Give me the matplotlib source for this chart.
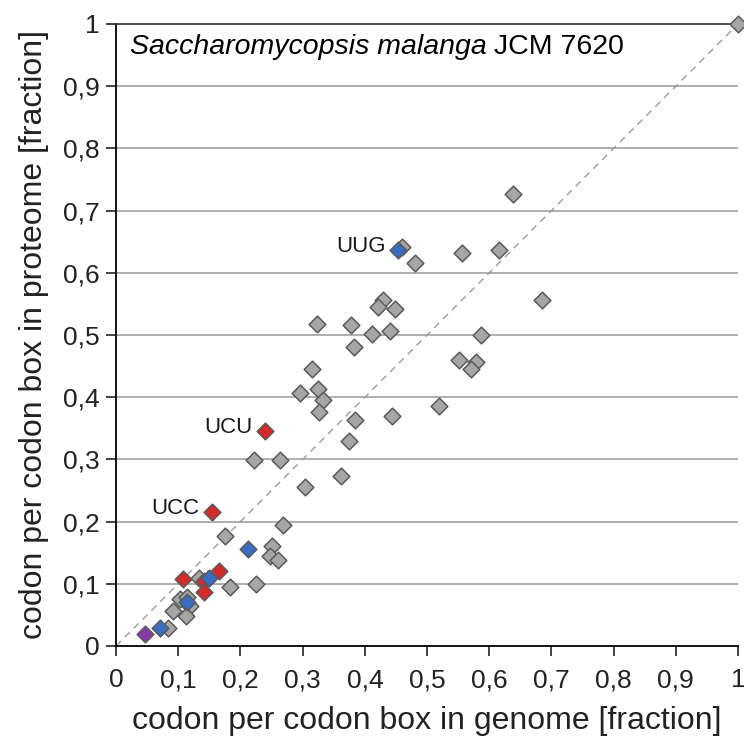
import matplotlib
matplotlib.use('Agg')
import matplotlib.pyplot as plt
from matplotlib.ticker import FuncFormatter

plt.rcParams['font.family'] = ['Liberation Sans', 'DejaVu Sans']

# codon fractions: genome (x) vs proteome (y)
gray_x = [0.303, 0.268, 0.175, 0.250, 0.247, 0.261, 0.134, 0.183, 0.225, 0.103,
          0.114, 0.119, 0.092, 0.112, 0.083, 0.295, 0.324, 0.333, 0.326, 0.384,
          0.443, 0.375, 0.222, 0.264, 0.361, 0.638, 0.460, 0.480, 0.556, 0.615,
          0.429, 0.421, 0.449, 0.323, 0.378, 0.412, 0.441, 0.383, 0.587, 0.551,
          0.579, 0.571, 0.315, 0.520, 0.684, 1.0]
gray_y = [0.256, 0.195, 0.177, 0.161, 0.144, 0.139, 0.110, 0.095, 0.099, 0.076,
          0.078, 0.065, 0.057, 0.048, 0.029, 0.407, 0.413, 0.395, 0.376, 0.364,
          0.370, 0.329, 0.299, 0.299, 0.274, 0.726, 0.642, 0.615, 0.632, 0.637,
          0.557, 0.545, 0.542, 0.518, 0.516, 0.502, 0.506, 0.481, 0.500, 0.459,
          0.457, 0.445, 0.445, 0.386, 0.556, 1.0]

red_x = [0.154, 0.239, 0.165, 0.108, 0.141, 0.141]
red_y = [0.215, 0.345, 0.121, 0.108, 0.104, 0.087]

blue_x = [0.454, 0.212, 0.149, 0.114, 0.071]
blue_y = [0.637, 0.156, 0.110, 0.071, 0.029]

purple_x = [0.047]
purple_y = [0.019]

labels = ['UUG', 'UCU', 'UCC']
label_x = [0.454, 0.239, 0.154]
label_y = [0.637, 0.345, 0.215]

fig = plt.figure(figsize=(7.44, 7.36), dpi=100)
ax = fig.add_axes([0.156, 0.1223, 0.836, 0.8451])

# horizontal grid
for v in [i / 10 for i in range(1, 10)]:
    ax.axhline(v, color='#999999', lw=1.1, zorder=0)

# diagonal
ax.plot([0, 1], [0, 1], color='#9a9a9a', lw=1.0, ls=(0, (5, 4)), zorder=1)

mk = dict(marker='D', s=72, linewidths=1.1, edgecolors='#5a5a5a', zorder=3, clip_on=False)
ax.scatter(gray_x, gray_y, color='#a6a6a6', **mk)
ax.scatter(red_x, red_y, color='#d42a2a', **mk)
ax.scatter(blue_x, blue_y, color='#3a6cc2', **mk)
ax.scatter(purple_x, purple_y, color='#8a3aa8', **mk)

for t, x, y in zip(labels, label_x, label_y):
    ax.text(x - 0.02, y + 0.006, t, fontsize=16, ha='right', va='center', color='#1a1a1a')

t1 = ax.text(0.022, 0.963, 'Saccharomycopsis malanga', fontsize=20.5, style='italic',
             transform=ax.transAxes, va='center', ha='left')
ax.annotate(' JCM 7620', xy=(1, 0), xycoords=t1, fontsize=20.5, va='bottom', ha='left')

ax.set_xlim(0, 1)
ax.set_ylim(0, 1)
ticks = [i / 10 for i in range(11)]
ax.set_xticks(ticks)
ax.set_yticks(ticks)
fmt = FuncFormatter(lambda v, p: '0' if v == 0 else ('1' if v == 1 else f'{v:.1f}'.replace('.', ',')))
ax.xaxis.set_major_formatter(fmt)
ax.yaxis.set_major_formatter(fmt)
ax.tick_params(labelsize=19, length=7, width=1.2, direction='out', pad=5, colors='#222222')
ax.tick_params(axis='x', pad=9)

ax.spines['right'].set_visible(False)
ax.spines['top'].set_color('#333333')
ax.spines['top'].set_linewidth(1.2)
ax.spines['left'].set_linewidth(1.3)
ax.spines['bottom'].set_linewidth(1.3)

ax.set_xlabel('codon per codon box in genome [fraction]', fontsize=23, labelpad=10, color='#222222')
ax.set_ylabel('codon per codon box in proteome [fraction]', fontsize=23, labelpad=10, color='#222222')

fig.savefig('out.png', dpi=100)
